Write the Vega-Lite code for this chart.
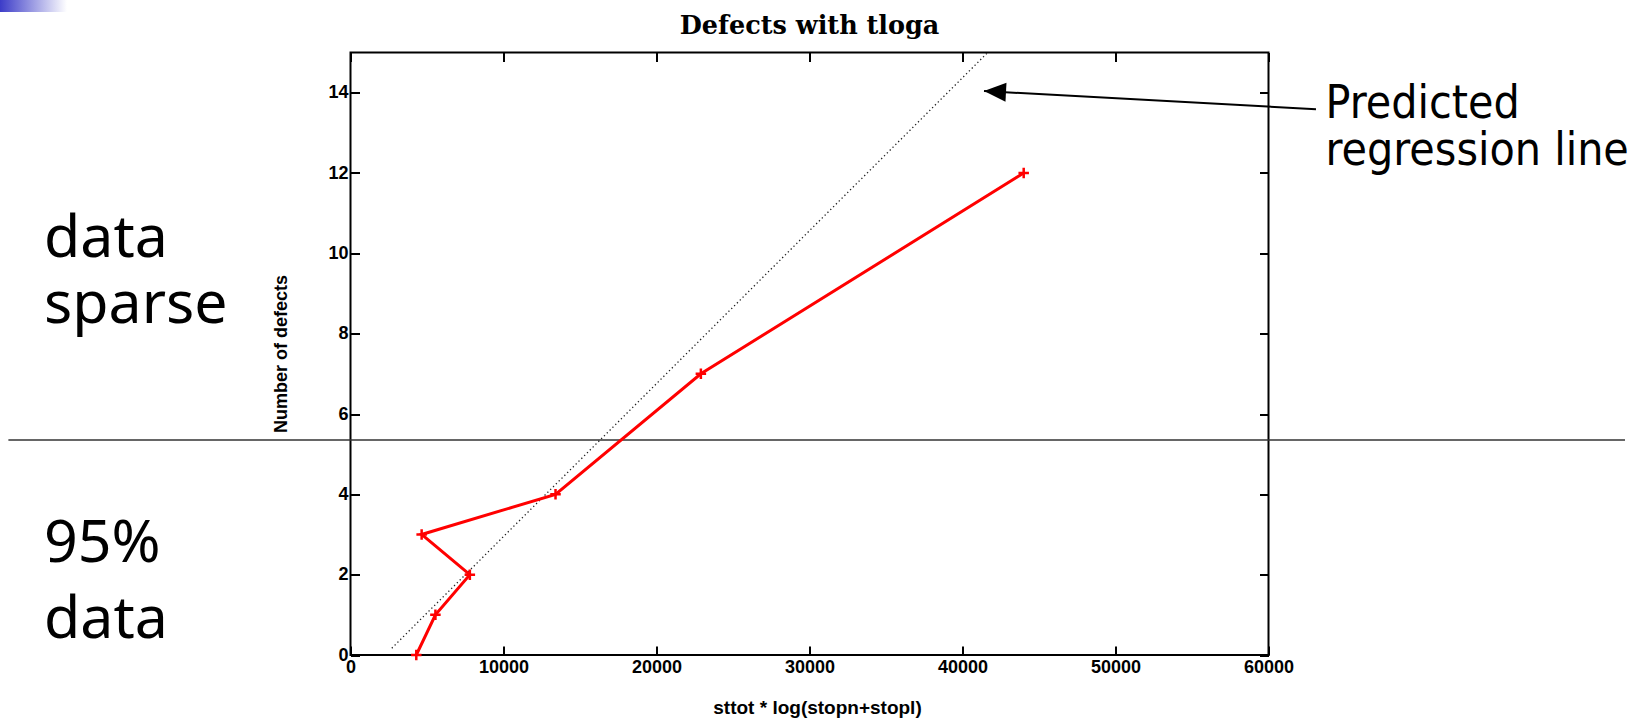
{
  "$schema": "https://vega.github.io/schema/vega-lite/v6.json",
  "width": 918,
  "height": 602.5,
  "autosize": {"type": "none"},
  "padding": {"left": 350.5, "top": 52.5, "right": 378.5, "bottom": 64},
  "background": "white",
  "config": {
    "view": {"stroke": "black", "strokeWidth": 2},
    "axis": {
      "grid": false,
      "domain": false,
      "tickColor": "black",
      "tickWidth": 2,
      "tickSize": -9,
      "labelFont": "Liberation Sans",
      "labelFontWeight": "bold",
      "labelFontSize": 18,
      "labelColor": "black",
      "labelFlush": false,
      "labelOverlap": false,
      "labelBound": false,
      "titleFont": "Liberation Sans",
      "titleFontWeight": "bold",
      "titleFontSize": 18,
      "titleColor": "black"
    }
  },
  "datasets": {
    "deco": [{"x": -22909, "x2": -18530, "y": 16.31, "y2": 16.01}],
    "hline": [{"x": -22360, "x2": 83300, "y": 5.35}],
    "reg": [{"x": 2700, "y": 0.17}, {"x": 41650, "y": 15}],
    "defects": [
      {"x": 4300, "y": 0},
      {"x": 5550, "y": 1},
      {"x": 7800, "y": 2},
      {"x": 4650, "y": 3},
      {"x": 13400, "y": 4},
      {"x": 22900, "y": 7},
      {"x": 44000, "y": 12}
    ],
    "arrow": [{"x": 63105, "y": 13.59, "x2": 41406, "y2": 14.04}],
    "arrowhead": [{"x": 41406, "y": 14.04}],
    "titletext": [{"label": "Defects with tloga", "x": 30000, "y": 15.47}],
    "lefttext": [
      {"label": "data", "x": -20033, "y": 9.908},
      {"label": "sparse", "x": -20033, "y": 8.265},
      {"label": "95%", "x": -20033, "y": 2.323},
      {"label": "data", "x": -20033, "y": 0.416}
    ],
    "righttext": [
      {"label": "Predicted", "x": 63733, "y": 13.378},
      {"label": "regression line", "x": 63733, "y": 12.198}
    ]
  },
  "layer": [
    {
      "data": {"name": "deco"},
      "mark": {
        "type": "rect",
        "clip": false,
        "fill": {
          "gradient": "linear",
          "x1": 0, "x2": 1, "y1": 0, "y2": 0,
          "stops": [
            {"offset": 0, "color": "#3c3cc8"},
            {"offset": 1, "color": "#ffffff"}
          ]
        }
      },
      "encoding": {
        "x": {"field": "x", "type": "quantitative", "scale": {"domain": [0, 60000], "nice": false, "zero": false}, "axis": null},
        "x2": {"field": "x2"},
        "y": {"field": "y", "type": "quantitative", "scale": {"domain": [0, 15], "nice": false, "zero": false}, "axis": null},
        "y2": {"field": "y2"}
      }
    },
    {
      "data": {"name": "hline"},
      "mark": {"type": "rule", "clip": false, "color": "#333333", "strokeWidth": 1.5},
      "encoding": {
        "x": {"field": "x", "type": "quantitative", "scale": {"domain": [0, 60000], "nice": false, "zero": false}, "axis": null},
        "x2": {"field": "x2"},
        "y": {"field": "y", "type": "quantitative", "scale": {"domain": [0, 15], "nice": false, "zero": false}, "axis": null}
      }
    },
    {
      "data": {"name": "reg"},
      "mark": {"type": "line", "color": "#222222", "strokeWidth": 1.3, "strokeDash": [1.3, 2.7]},
      "encoding": {
        "x": {
          "field": "x", "type": "quantitative",
          "scale": {"domain": [0, 60000], "nice": false, "zero": false},
          "axis": {
            "orient": "bottom",
            "values": [0, 10000, 20000, 30000, 40000, 50000, 60000],
            "format": "d",
            "labelPadding": 12,
            "title": "sttot * log(stopn+stopl)",
            "titleFontSize": 19,
            "titleX": 466.5,
            "titleY": 58.5,
            "titleBaseline": "alphabetic",
            "titleAlign": "center"
          }
        },
        "y": {
          "field": "y", "type": "quantitative",
          "scale": {"domain": [0, 15], "nice": false, "zero": false},
          "axis": {
            "orient": "left",
            "values": [0, 2, 4, 6, 8, 10, 12, 14],
            "format": "d",
            "labelPadding": 11.5,
            "title": "Number of defects",
            "titleX": -69,
            "titleY": 301,
            "titleAngle": 270,
            "titleBaseline": "middle",
            "titleAlign": "center"
          }
        }
      }
    },
    {
      "data": {"name": "defects"},
      "mark": {"type": "line", "color": "#ff0000", "strokeWidth": 3},
      "encoding": {
        "x": {
          "field": "x", "type": "quantitative",
          "scale": {"domain": [0, 60000], "nice": false, "zero": false},
          "axis": {"orient": "top", "values": [0, 10000, 20000, 30000, 40000, 50000, 60000], "labels": false, "title": null}
        },
        "y": {
          "field": "y", "type": "quantitative",
          "scale": {"domain": [0, 15], "nice": false, "zero": false},
          "axis": {"orient": "right", "values": [0, 2, 4, 6, 8, 10, 12, 14], "labels": false, "title": null}
        },
        "order": {"field": "y", "type": "quantitative"}
      }
    },
    {
      "data": {"name": "defects"},
      "mark": {"type": "point", "shape": "M-1,0L1,0M0,-1L0,1", "filled": false, "color": "#ff0000", "strokeWidth": 2.5, "size": 110, "opacity": 1},
      "encoding": {
        "x": {"field": "x", "type": "quantitative", "scale": {"domain": [0, 60000], "nice": false, "zero": false}, "axis": null},
        "y": {"field": "y", "type": "quantitative", "scale": {"domain": [0, 15], "nice": false, "zero": false}, "axis": null}
      }
    },
    {
      "data": {"name": "arrow"},
      "mark": {"type": "rule", "clip": false, "color": "black", "strokeWidth": 2},
      "encoding": {
        "x": {"field": "x", "type": "quantitative", "scale": {"domain": [0, 60000], "nice": false, "zero": false}, "axis": null},
        "x2": {"field": "x2"},
        "y": {"field": "y", "type": "quantitative", "scale": {"domain": [0, 15], "nice": false, "zero": false}, "axis": null},
        "y2": {"field": "y2"}
      }
    },
    {
      "data": {"name": "arrowhead"},
      "mark": {"type": "point", "clip": false, "shape": "M0,0L1,-0.43L1,0.43Z", "filled": true, "color": "black", "opacity": 1, "size": 1936, "angle": 3},
      "encoding": {
        "x": {"field": "x", "type": "quantitative", "scale": {"domain": [0, 60000], "nice": false, "zero": false}, "axis": null},
        "y": {"field": "y", "type": "quantitative", "scale": {"domain": [0, 15], "nice": false, "zero": false}, "axis": null}
      }
    },
    {
      "data": {"name": "titletext"},
      "mark": {"type": "text", "clip": false, "align": "center", "baseline": "alphabetic", "font": "DejaVu Serif", "fontWeight": "bold", "fontSize": 25.5, "color": "black"},
      "encoding": {
        "x": {"field": "x", "type": "quantitative", "scale": {"domain": [0, 60000], "nice": false, "zero": false}, "axis": null},
        "y": {"field": "y", "type": "quantitative", "scale": {"domain": [0, 15], "nice": false, "zero": false}, "axis": null},
        "text": {"field": "label"}
      }
    },
    {
      "data": {"name": "lefttext"},
      "mark": {"type": "text", "clip": false, "align": "left", "baseline": "alphabetic", "font": "Noto Sans", "fontSize": 59, "color": "black"},
      "encoding": {
        "x": {"field": "x", "type": "quantitative", "scale": {"domain": [0, 60000], "nice": false, "zero": false}, "axis": null},
        "y": {"field": "y", "type": "quantitative", "scale": {"domain": [0, 15], "nice": false, "zero": false}, "axis": null},
        "text": {"field": "label"}
      }
    },
    {
      "data": {"name": "righttext"},
      "mark": {"type": "text", "clip": false, "align": "left", "baseline": "alphabetic", "font": "DejaVu Sans Condensed, Liberation Sans, sans-serif", "fontSize": 46, "color": "black"},
      "encoding": {
        "x": {"field": "x", "type": "quantitative", "scale": {"domain": [0, 60000], "nice": false, "zero": false}, "axis": null},
        "y": {"field": "y", "type": "quantitative", "scale": {"domain": [0, 15], "nice": false, "zero": false}, "axis": null},
        "text": {"field": "label"}
      }
    }
  ],
  "resolve": {"axis": {"x": "independent", "y": "independent"}}
}
